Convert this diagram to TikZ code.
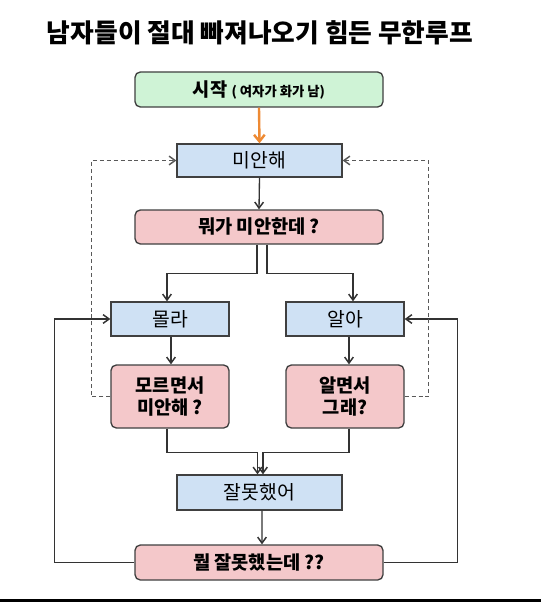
\documentclass[tikz,border=0pt]{standalone}
\usepackage{fontspec}
\setmainfont{Noto Sans CJK KR}
\usetikzlibrary{arrows.meta}
\definecolor{gfill}{HTML}{CFF3D6}
\definecolor{bfill}{HTML}{CFE1F4}
\definecolor{pfill}{HTML}{F4C8CA}
\definecolor{bord}{HTML}{404040}
\definecolor{orng}{HTML}{EE8A33}
\definecolor{lnc}{HTML}{333333}
\tikzset{
  bluebox/.style={draw=bord, line width=1pt, fill=bfill, minimum height=25.5pt, inner sep=0pt, font=\fontsize{14.5}{16}\selectfont},
  pinkbox/.style={draw=bord, line width=1pt, fill=pfill, rounded corners=4pt, inner sep=0pt, font=\bfseries\fontsize{14}{17}\selectfont, align=center},
  greenbox/.style={draw=bord, line width=1pt, fill=gfill, rounded corners=4pt, inner sep=0pt},
  arr/.style={draw=lnc, line width=1pt, -{Straight Barb[length=4.5pt,width=6.5pt,line width=1.1pt]}},
  darr/.style={arr, dashed, dash pattern=on 3pt off 2.2pt, draw=black!65},
  plain/.style={draw=lnc, line width=1pt}
}
\begin{document}
\begin{tikzpicture}[x=0.75pt,y=-0.75pt]
\useasboundingbox (0,0) rectangle (541,602);
\fill[white] (0,0) rectangle (541,602);
\fill[black] (0,599) rectangle (541,602);
\node[font=\bfseries\fontsize{19.3}{22}\selectfont] (title) at (260,33) {남자들이 절대 빠져나오기 힘든 무한루프};
\node[greenbox, minimum width=186pt, minimum height=26.25pt] (start) at (259,89.5)
  {\bfseries\fontsize{14}{16}\selectfont 시작 {\fontsize{10}{12}\selectfont ( 여자가 화가 남)}};
\node[bluebox, minimum width=123.75pt, minimum height=24.75pt] (sorry) at (259.5,160.5) {미안해};
\node[pinkbox, minimum width=186pt, minimum height=25.5pt] (what) at (259,227) {뭐가 미안한데 ?};
\node[bluebox, minimum width=88.5pt] (dontknow) at (170,319) {몰라};
\node[bluebox, minimum width=88.5pt] (know) at (345,319) {알아};
\node[pinkbox, minimum width=88.5pt, minimum height=47.25pt] (q1) at (170,396.5) {모르면서\\미안해 ?};
\node[pinkbox, minimum width=88.5pt, minimum height=47.25pt] (q2) at (345,396.5) {알면서\\그래?};
\node[bluebox, minimum width=123.75pt, minimum height=26.25pt] (wrong) at (259.5,492.5) {잘못했어};
\node[pinkbox, minimum width=186pt, minimum height=26.25pt] (whatwrong) at (259,562.5) {뭘 잘못했는데 ??};
% arrows
\draw[orng, line width=1.8pt, -{Straight Barb[length=5pt,width=8pt,line width=1.8pt]}] (start.south) -- (sorry.north);
\draw[arr] (sorry.south) -- (what.north);
\draw[arr] ([xshift=-1.5pt]what.south) -- ++(0,29) -| ([xshift=-2.25pt]dontknow.north);
\draw[arr] ([xshift=6pt]what.south) -- ++(0,29) -| ([xshift=6pt]know.north);
\draw[arr] ([xshift=0.75pt]dontknow.south) -- ([xshift=0.75pt]q1.north);
\draw[arr] ([xshift=3pt]know.south) -- ([xshift=3pt]q2.north);
\draw[arr] ([xshift=-2.25pt]q1.south) -- ++(0,24) -| ([xshift=-1.5pt]wrong.north);
\draw[arr] ([xshift=3pt]q2.south) -- ++(0,24) -| ([xshift=2.6pt]wrong.north);
\draw[arr] ([xshift=1.9pt]wrong.south) -- ([xshift=2.25pt]whatwrong.north);
\draw[arr] (whatwrong.west) -- ++(-80,0) |- (dontknow.west);
\draw[arr] (whatwrong.east) -- ++(74,0) |- (know.east);
\draw[darr] (q1.west) -- ++(-19,0) |- (sorry.west);
\draw[darr] (q2.east) -- ++(24,0) |- (sorry.east);
\end{tikzpicture}
\end{document}
